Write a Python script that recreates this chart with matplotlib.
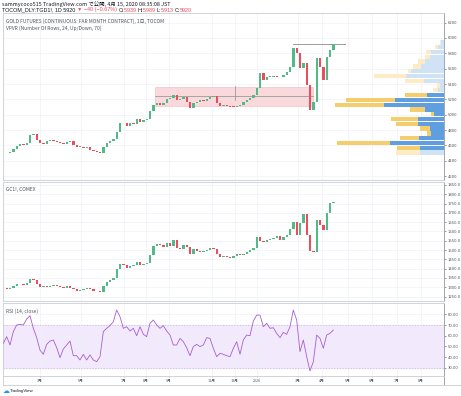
import matplotlib
matplotlib.use('Agg')
import matplotlib.pyplot as plt
import matplotlib.text as mtext
import numpy as np
from matplotlib.patches import Rectangle

W, H = 461, 396

# ---------------- data ----------------
tocom_close = [
    4496, 4505, 4518, 4548, 4592, 4618, 4609, 4635, 4735, 4744,
    4670, 4635, 4618, 4661, 4670, 4661, 4644, 4626, 4613, 4648,
    4661, 4605, 4583, 4583, 4561, 4574, 4540, 4526, 4518, 4505,
    4574, 4626, 4661, 4679, 4779, 4887, 4896, 4852, 4896, 4879,
    4939, 4909, 4931, 4948, 5052, 5126, 5148, 5126, 5148, 5200,
    5213, 5257, 5191, 5200, 5226, 5170, 5092, 5148, 5170, 5191,
    5183, 5200, 5235, 5244, 5157, 5113, 5126, 5113, 5105,
    5104, 5113, 5126, 5169, 5191, 5213, 5256, 5343, 5539, 5452,
    5495, 5495, 5504, 5495, 5487, 5517, 5561, 5626, 5865, 5800,
    5604, 5669, 5387, 5061, 5169, 5735, 5626, 5452, 5756, 5843,
    5921]

gc_close = [
    1294, 1293, 1298, 1307, 1318, 1316, 1312, 1321, 1343, 1339,
    1318, 1300, 1304, 1300, 1307, 1311, 1307, 1300, 1298, 1307,
    1294, 1289, 1280, 1286, 1289, 1296, 1289, 1282, 1278, 1277,
    1304, 1330, 1339, 1348, 1397, 1425, 1420, 1402, 1415, 1420,
    1438, 1420, 1425, 1429, 1474, 1522, 1533, 1527, 1519, 1540,
    1522, 1554, 1510, 1504, 1527, 1519, 1479, 1504, 1497, 1492,
    1497, 1501, 1510, 1504, 1479, 1465, 1468, 1461, 1456,
    1468, 1479, 1475, 1479, 1492, 1501, 1510, 1572, 1551, 1545,
    1554, 1558, 1563, 1576, 1554, 1569, 1581, 1612, 1653, 1581,
    1644, 1694, 1581, 1497, 1492, 1662, 1635, 1608, 1701, 1755,
    1755]

rsi_values = [
    52.9, 59.1, 51.3, 63.8, 70.0, 70.6, 70.0, 75.6, 78.7, 66.9,
    58.2, 46.6, 42.6, 51.9, 55.0, 56.0, 48.8, 39.5, 47.6, 51.3,
    55.0, 41.3, 41.3, 37.3, 42.6, 37.3, 42.0, 37.3, 35.7, 40.4,
    63.8, 66.9, 69.4, 73.1, 84.0, 77.8, 66.9, 68.4, 64.4, 66.9,
    60.0, 68.4, 61.3, 59.1, 71.6, 74.7, 70.0, 66.9, 69.4, 64.4,
    60.6, 51.3, 51.3, 57.5, 54.4, 48.8, 41.3, 49.8, 51.9, 49.8,
    51.3, 58.2, 57.5, 48.2, 40.4, 43.5, 42.6, 41.3, 40.4,
    48.2, 54.4, 42.6, 56.0, 60.6, 60.0, 73.7, 79.3, 79.3, 68.4,
    71.6, 66.9, 67.5, 62.2, 58.2, 63.1, 61.3, 68.4, 84.0, 74.7,
    45.1, 56.0, 40.4, 27.0, 35.7, 60.6, 57.5, 48.2, 60.6, 62.2,
    65.3]

# Volume profile rows, top row first (arbitrary volume units)
vp_up = [8, 18, 38, 43, 58, 68, 98, 113, 61, 11, 18, 50,
         146, 181, 58, 31, 78, 78, 43, 38, 76, 163, 73, 73]
vp_down = [5, 8, 15, 15, 20, 25, 10, 98, 55, 10, 15, 66,
           147, 147, 45, 7, 80, 65, 30, 13, 57, 157, 67, 72]
vp_in_value_area = [0, 0, 0, 0, 0, 0, 0, 0, 0, 0, 0, 1,
                    1, 1, 1, 1, 1, 1, 1, 1, 1, 1, 1, 0]
vp_low, vp_high = 4474, 5974

ticks_tocom = [4200, 4400, 4600, 4800, 5000, 5200, 5400, 5600, 5800, 6000, 6200]
ticks_gc = [1250, 1300, 1350, 1400, 1450, 1500, 1550, 1600, 1650, 1700, 1750, 1800, 1850]
ticks_rsi = [30, 40, 50, 60, 70, 80]
time_labels = ['3月', '5月', '7月', '8月', '9月', '11月', '12月', '2020',
               '3月', '4月', '5月', '6月', '7月', '8月']
time_bar_pos = [11.0, 23.3, 36.2, 42.8, 49.7, 62.6, 69.5, 76.1,
                88.4, 95.6, 103.4, 110.6, 118.1, 125.3]

# drawings
zone_x = (45.5, 92.9)
zone_y = (5117, 5365)
zone_mid = 5244
top_line_x = (86.9, 102.5)
top_line_y = 5925

# ---------------- style ----------------
UP = '#53b987'
DN = '#eb4d5c'
GRID = '#eef1f6'
TXT = '#4c525e'
SPINE = '#c9ccd4'
JP = ['Noto Sans CJK JP', 'DejaVu Sans']
LAT = ['Liberation Sans', 'DejaVu Sans']

fig = plt.figure(figsize=(W / 100, H / 100), dpi=100)
fig.patch.set_facecolor('white')


def rect(x0, y0, x1, y1):
    return [x0 / W, 1 - y1 / H, (x1 - x0) / W, (y1 - y0) / H]


XL = (-0.1, 132.2)

ax1 = fig.add_axes(rect(3, 13, 444, 180))
ax2 = fig.add_axes(rect(3, 182, 444, 301))
ax3 = fig.add_axes(rect(3, 303, 444, 376))
axt = fig.add_axes(rect(3, 376, 444, 385))


def style(ax, ticks, fmt, ylim):
    ax.set_xlim(*XL)
    ax.set_ylim(*ylim)
    ax.set_yticks(ticks)
    ax.set_yticklabels([fmt.format(t) for t in ticks])
    ax.yaxis.tick_right()
    ax.tick_params(axis='y', labelsize=2.7, length=1.5, width=0.4, pad=1.2,
                   colors=TXT)
    ax.set_xticks(time_bar_pos)
    ax.tick_params(axis='x', length=0, labelbottom=False)
    ax.grid(True, color=GRID, lw=0.5)
    ax.set_axisbelow(True)
    for s in ax.spines.values():
        s.set_color(SPINE)
        s.set_linewidth(0.6)
    ax.spines['right'].set_color('#9598a1')


style(ax1, ticks_tocom, '{:d}', (4148, 6326))
style(ax2, ticks_gc, '{:.1f}', (1226, 1866))
style(ax3, ticks_rsi, '{:.2f}', (22.3, 90.6))


def candles(ax, closes, minh):
    closes = np.asarray(closes, dtype=float)
    opens = np.concatenate([[closes[0]], closes[:-1]])
    x = np.arange(len(closes))
    lo = np.minimum(opens, closes)
    h = np.maximum(np.abs(closes - opens), minh)
    cols = [UP if c >= o else DN for o, c in zip(opens, closes)]
    ax.bar(x, h, bottom=lo, width=0.7, color=cols, linewidth=0, zorder=3)


# ---- panel 1: TOCOM + VPVR + drawings
axv = ax1.inset_axes([0, 0, 1, 1])
axv.set_ylim(ax1.get_ylim())
axv.axis('off')
axv.patch.set_alpha(0)
n_rows = len(vp_up)
row_h = (vp_high - vp_low) / n_rows
centers = vp_high - row_h * (np.arange(n_rows) + 0.5)
tot_max = max(u + d for u, d in zip(vp_up, vp_down))
axv.set_xlim(tot_max * 441 / 109.3, 0)
blue = ['#5f9fe0' if v else '#cfe2f6' for v in vp_in_value_area]
yell = ['#f6cd6c' if v else '#fcebc4' for v in vp_in_value_area]
axv.barh(centers, vp_up, height=row_h * 0.9, left=0, color=blue, lw=0)
axv.barh(centers, vp_down, height=row_h * 0.9, left=vp_up, color=yell, lw=0)

ax1.add_patch(Rectangle((zone_x[0], zone_y[0]), zone_x[1] - zone_x[0],
                        zone_y[1] - zone_y[0], facecolor='#f9d9dc',
                        edgecolor='#f2b8bd', lw=0.4, zorder=1))
ax1.plot(zone_x, [zone_mid, zone_mid], color='#9b9b9b', lw=0.6, zorder=2)
ax1.plot([69.5, 69.5], [5185, 5380], color='#9b9b9b', lw=0.6, zorder=2)
ax1.plot(top_line_x, [top_line_y, top_line_y], color='#9b9b9b', lw=0.7, zorder=2)
candles(ax1, tocom_close, 4)

ax1.text(0.006, 0.965, 'GOLD FUTURES (CONTINUOUS: FAR MONTH CONTRACT), 1日, TOCOM',
         transform=ax1.transAxes, fontsize=3.5, color=TXT, family=JP, va='top')
ax1.text(0.006, 0.925, 'VPVR (Number Of Rows, 24, Up/Down, 70)',
         transform=ax1.transAxes, fontsize=3.5, color=TXT, family=JP, va='top')

# ---- panel 2: GC1!
candles(ax2, gc_close, 1)
ax2.text(0.006, 0.955, 'GC1!, COMEX', transform=ax2.transAxes, fontsize=3.5,
         color=TXT, family=JP, va='top')

# ---- panel 3: RSI
ax3.axhspan(30, 70, color='#f3e9fd', zorder=0)
ax3.axhline(70, color='#c9b6e0', lw=0.5, ls=(0, (2, 2)))
ax3.axhline(30, color='#c9b6e0', lw=0.5, ls=(0, (2, 2)))
ax3.plot(np.arange(len(rsi_values)), rsi_values, color='#a65fcf', lw=0.6, zorder=3)
ax3.text(0.006, 0.93, 'RSI (14, close)', transform=ax3.transAxes, fontsize=3.5,
         color=TXT, family=JP, va='top')

# ---- time axis
axt.set_xlim(*XL)
axt.set_ylim(0, 1)
axt.set_yticks([])
axt.set_xticks([])
for s in axt.spines.values():
    s.set_color(SPINE)
    s.set_linewidth(0.6)
axt.spines['right'].set_color('#9598a1')
for p, lab in zip(time_bar_pos, time_labels):
    axt.text(p, 0.45, lab, ha='center', va='center', fontsize=2.7,
             color=TXT, family=JP)
    axt.plot([p, p], [0.85, 1.0], color='#b2b5be', lw=0.4)

# right-hand axis frame
fig.add_artist(plt.Line2D([444 / W, 461 / W], [1 - 385 / H, 1 - 385 / H],
                          color=SPINE, lw=0.6))

# ---- header
fig.text(2 / W, 1 - 1 / H, 'sammycoco515 TradingView.com で公開, 4月 15, 2020 08:35:08 JST',
         fontsize=3.9, color='#131722', family=JP, va='top')
parts = [('TOCOM_DLY:TGD1!, 1D 5920 ', '#131722'), ('▼ −40 (−0.67%) ', DN),
         ('O:', '#131722'), ('5939 ', DN), ('H:', '#131722'), ('5989 ', DN),
         ('L:', '#131722'), ('5913 ', DN), ('C:', '#131722'), ('5920', DN)]
prev = fig.text(2 / W, 1 - 12.5 / H, parts[0][0], fontsize=3.9, color=parts[0][1],
                family=LAT, va='bottom')
for s, c in parts[1:]:
    ann = mtext.Annotation(s, xy=(1, 0), xycoords=prev, fontsize=3.9, color=c,
                           family=LAT, va='bottom', ha='left')
    fig.add_artist(ann)
    prev = ann

# ---- TradingView logo
fig.text(3 / W, 1 - 391 / H, '☁', fontsize=5, color='#2196f3',
         family='DejaVu Sans', va='center')
fig.text(10 / W, 1 - 391 / H, 'TradingView', fontsize=3.2, color='#131722',
         family=LAT, va='center')

fig.savefig('out.png', dpi=100, facecolor='white')
